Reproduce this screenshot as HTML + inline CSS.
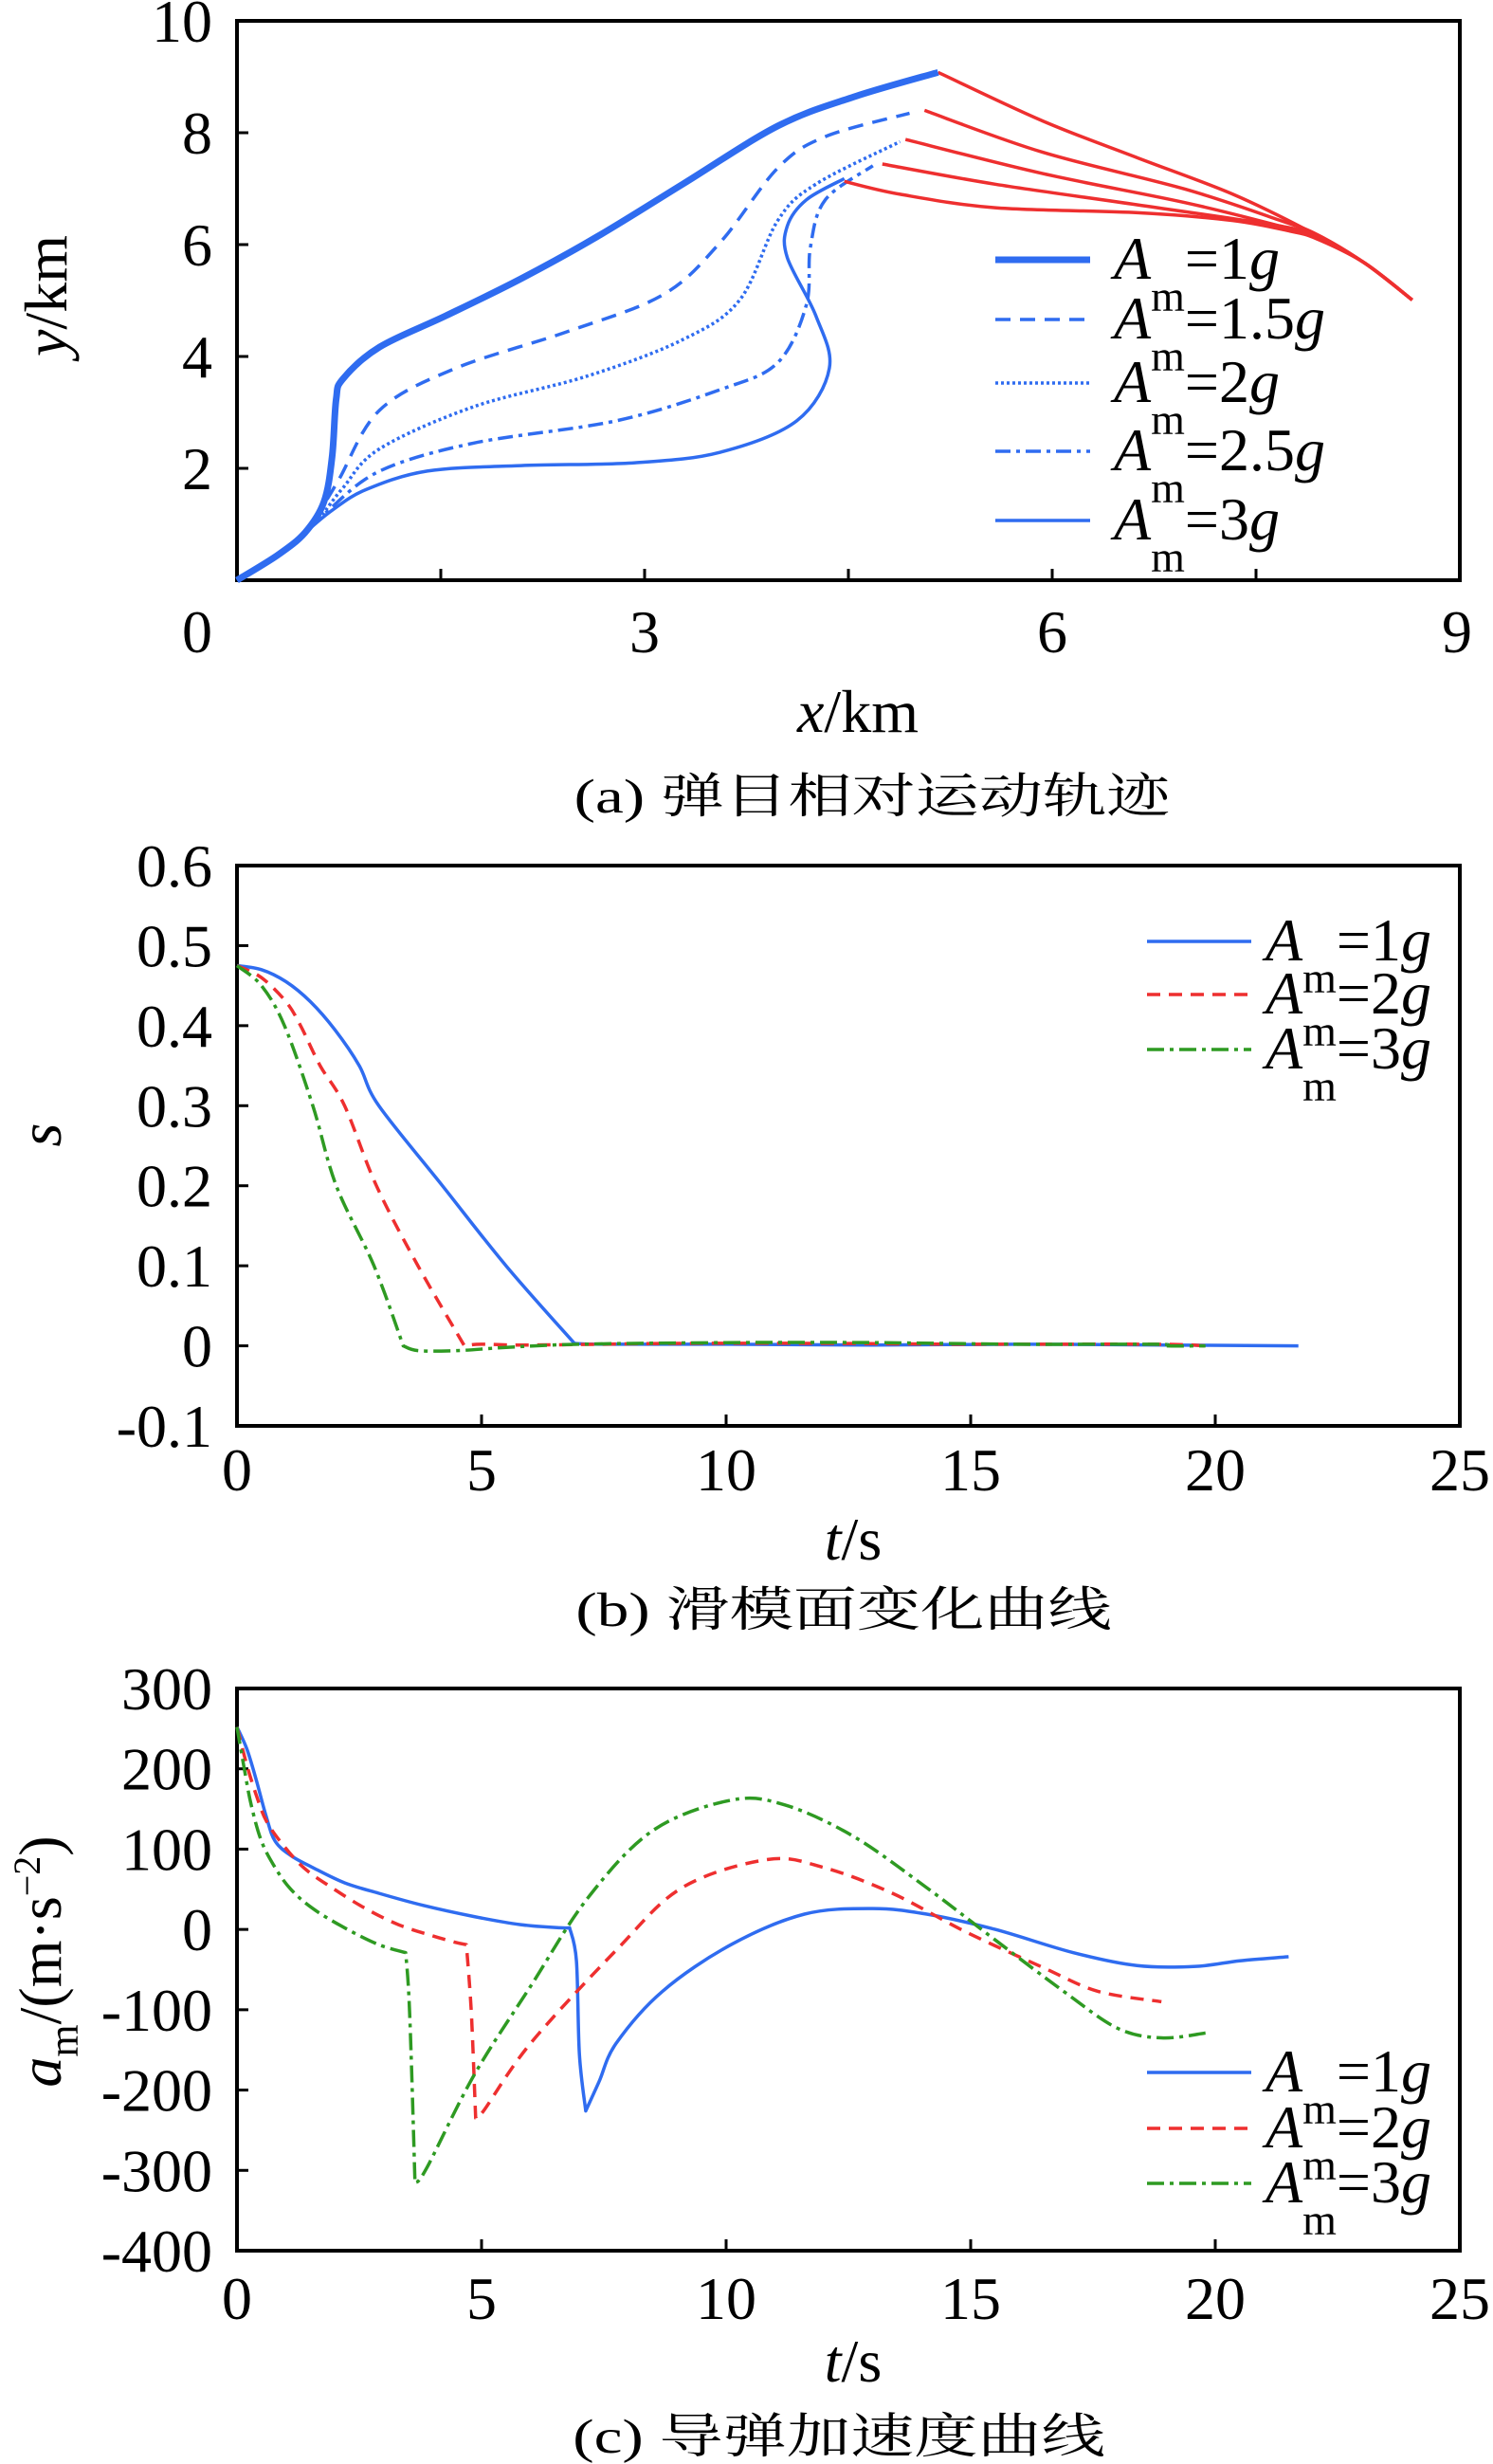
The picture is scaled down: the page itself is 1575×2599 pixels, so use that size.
<!DOCTYPE html>
<html><head><meta charset="utf-8">
<style>
html,body{margin:0;padding:0;background:#fff;}
svg{display:block;}
text{font-family:"Liberation Serif","Noto Serif CJK SC",serif;fill:#000;}
</style></head>
<body>
<svg id="fig" width="1575" height="2599" viewBox="0 0 1575 2599" xmlns="http://www.w3.org/2000/svg">
  <rect x="0" y="0" width="1575" height="2599" fill="#fff"/>
</svg>
<script>
// ---------- Chart (a) data ----------
const aX1 = [0,0.3,0.5,0.64,0.70,0.73,0.78,1.05,1.54,2.09,2.65,3.28,3.98,4.54,5.16];
const aY1 = [0,0.45,0.85,1.4,2.2,3.23,3.60,4.17,4.73,5.39,6.14,7.08,8.12,8.64,9.08];
const aX15 = [0,0.3,0.5,0.60,0.75,1.05,1.61,2.44,3.14,3.56,3.98,4.33,4.95];
const aY15 = [0,0.45,0.85,1.2,1.8,3.04,3.79,4.45,5.11,6.05,7.37,7.93,8.35];
const aX2 = [0,0.3,0.5,0.62,0.78,1.05,1.74,2.58,3.28,3.70,3.98,4.26,4.88];
const aY2 = [0,0.45,0.85,1.15,1.65,2.35,3.1,3.65,4.3,5.01,6.43,7.08,7.84];
const aX25 = [0,0.3,0.5,0.65,1.05,1.74,2.79,3.56,3.98,4.19,4.22,4.33,4.68];
const aY25 = [0,0.45,0.85,1.2,1.95,2.45,2.85,3.41,3.89,4.92,5.95,6.80,7.41];
const aX3 = [0,0.3,0.5,0.70,0.95,1.40,2.09,2.93,3.56,4.12,4.36,4.26,4.05,4.05,4.19,4.47];
const aY3 = [0,0.45,0.85,1.25,1.62,1.95,2.05,2.10,2.29,2.85,3.79,4.73,5.77,6.33,6.80,7.18];
// target (red) trajectories
const tX1 = [5.16,5.93,6.63,7.33,7.89,8.30,8.65];
const tY1 = [9.08,8.21,7.55,6.90,6.24,5.67,5.01];
const tX15 = [5.06,5.93,6.98,7.68,7.95,8.30,8.65];
const tY15 = [8.40,7.65,6.99,6.43,6.18,5.67,5.01];
const tX2 = [4.92,5.93,6.98,7.68,7.95,8.30,8.65];
const tY2 = [7.88,7.27,6.75,6.33,6.15,5.67,5.01];
const tX25 = [4.75,5.58,6.63,7.68,7.95,8.30,8.65];
const tY25 = [7.44,7.08,6.71,6.33,6.13,5.67,5.01];
const tX3 = [4.47,4.88,5.58,6.63,7.33,7.75,7.95,8.30,8.65];
const tY3 = [7.13,6.90,6.66,6.57,6.43,6.24,6.10,5.67,5.01];
const aXTicks = [0,3,6,9];
const aYTicks = [2,4,6,8,10];

// ---------- Chart (b) data ----------
const bT1 = [0,0.5,1,1.5,2,2.5,2.9,4.2,5.5,6.9,7.5,10,13,16,19,21.7];
const bS1 = [0.475,0.47,0.455,0.43,0.395,0.35,0.3,0.2,0.1,0.003,0.002,0.002,0.001,0.002,0.001,0.0];
const bT2 = [0,0.5,1,1.3,1.7,2.2,2.85,3.7,4.65,5,6,9,12,15,18.8,19.8];
const bS2 = [0.475,0.46,0.43,0.4,0.35,0.3,0.2,0.1,0.0,0.002,0.001,0.003,0.003,0.002,0.002,0.0];
const bT3 = [0,0.5,0.97,1.55,2.03,2.8,3.4,3.7,4.5,5.5,7,10,13,16,18.8,19,19.8];
const bS3 = [0.475,0.45,0.4,0.3,0.2,0.1,0.0,-0.006,-0.006,-0.002,0.002,0.004,0.004,0.002,0.002,0.0,0.0];
const bXTicks = [0,5,10,15,20,25];
const bYTicks = [-0.1,0,0.1,0.2,0.3,0.4,0.5,0.6];

// ---------- Chart (c) data ----------
const cT1 = [0,0.2,0.39,0.6,0.78,1.1,1.55,2.2,2.9,3.8,4.85,5.8,6.6,6.8,6.94,7.0,7.13,7.4,7.75,8.7,10.1,11.6,13,14.1,15.5,17.1,18.4,19.6,20.5,21.5];
const cA1 = [252,225,187,140,110,92,77,58,45,30,16,6,2,2,-39,-155,-226,-190,-142,-77,-19,19,26,19,0,-29,-45,-46,-39,-34];
const cT2 = [0,0.2,0.39,0.6,0.97,1.4,1.94,2.6,3.3,4.0,4.46,4.69,4.79,4.88,5.04,6.0,7.75,9.1,10.85,12.0,13.4,14.9,16.5,17.6,18.9];
const cA2 = [252,205,168,135,103,75,52,27,6,-8,-16,-19,-103,-235,-226,-142,-26,52,87,77,45,-3,-48,-77,-90];
const cT3 = [0,0.15,0.29,0.5,0.78,1.1,1.55,2.2,2.9,3.45,3.53,3.64,3.88,4.85,6.0,7.17,8.5,10.1,11.2,12.6,14.1,15.5,16.9,18.0,18.9,19.8];
const cA3 = [252,200,155,110,77,50,26,2,-19,-29,-103,-316,-297,-181,-71,39,123,161,155,116,52,-13,-77,-123,-135,-129];
const cXTicks = [0,5,10,15,20,25];
const cYTicks = [-400,-300,-200,-100,0,100,200,300];

const NS = "http://www.w3.org/2000/svg";
const svg = document.getElementById('fig');
const BLUE = "#2f6cf0", RED = "#ee2f2f", GREEN = "#2e9a22";
const FONT = '"Liberation Serif","Noto Serif CJK SC",serif';
const FS = 64;

function mk(tag, attrs, parent){
  const e = document.createElementNS(NS, tag);
  for (const k in attrs) e.setAttribute(k, attrs[k]);
  (parent||svg).appendChild(e);
  return e;
}
function scale(d0,d1,p0,p1){ return v => p0 + (v-d0)*(p1-p0)/(d1-d0); }
function smoothPts(P){
  let d = "";
  for (let i=0;i<P.length-1;i++){
    const p0=P[Math.max(0,i-1)], p1=P[i], p2=P[i+1], p3=P[Math.min(P.length-1,i+2)];
    const c1=[p1[0]+(p2[0]-p0[0])/6, p1[1]+(p2[1]-p0[1])/6];
    const c2=[p2[0]-(p3[0]-p1[0])/6, p2[1]-(p3[1]-p1[1])/6];
    d += "C"+c1[0].toFixed(1)+","+c1[1].toFixed(1)+" "+c2[0].toFixed(1)+","+c2[1].toFixed(1)+" "+p2[0].toFixed(1)+","+p2[1].toFixed(1);
  }
  return d;
}
// smooth path, with optional corner indices where the curve is split
function smoothD(xs, ys, sx, sy, corners){
  const P = xs.map((x,i)=>[sx(x), sy(ys[i])]);
  const cuts = [0].concat(corners||[]).concat([P.length-1]);
  let d = "M"+P[0][0].toFixed(1)+","+P[0][1].toFixed(1);
  for (let k=0;k<cuts.length-1;k++){
    const seg = P.slice(cuts[k], cuts[k+1]+1);
    if (seg.length>1) d += smoothPts(seg);
  }
  return d;
}
function frame(g, L, T, R, B){
  const r = mk('rect', {x:L, y:T, width:R-L, height:B-T, fill:'none', stroke:'#000', 'stroke-width':4}, g);
  
  
}
function txt(g, x, y, s, attrs){
  const t = mk('text', Object.assign({x:x, y:y, 'font-size':FS, 'font-family':FONT}, attrs||{}), g);
  t.textContent = s;
  return t;
}
function legendLabel(g, x, y, val){
  const t = mk('text', {x:x, y:y, 'font-size':FS, 'font-family':FONT}, g);
  const a = mk('tspan', {'font-style':'italic'}, t); a.textContent = 'A';
  const m = mk('tspan', {dx:0, dy:34, 'font-size':46}, t); m.textContent = 'm';
  const e = mk('tspan', {dy:-34}, t); e.textContent = '=' + val;
  const gg = mk('tspan', {'font-style':'italic'}, t); gg.textContent = 'g';
  return t;
}

// ================= Chart (a) =================
(function(){
  const g = mk('g', {});
  
  
  const L=250, R=1540, T=22, B=612;
  const sx = scale(0,9,L,R), sy = scale(0,10,B,T);
  frame(g,L,T,R,B);
  [1.5,3,4.5,6,7.5].forEach(v=>{
    const l = mk('line', {x1:sx(v), x2:sx(v), y1:B, y2:B-12, stroke:'#000', 'stroke-width':3}, g);
    
    
  });
  aYTicks.forEach(v=>{
    if (v<10){
      const l = mk('line', {x1:L, x2:L+12, y1:sy(v), y2:sy(v), stroke:'#000', 'stroke-width':3}, g);
      
      
    }
    const t = txt(g, 224, sy(v)+22, String(v), {'text-anchor':'end'});
    
    
  });
  aXTicks.forEach((v,i)=>{
    const t = txt(g, sx(v) + (i==0?-42:(i==3?-3:0)), 688, String(v), {'text-anchor':'middle'});
    
    
  });
  const yl = txt(g, 0, 0, '', {transform:'translate(70,312) rotate(-90)', 'text-anchor':'middle'});
  yl.innerHTML = '<tspan font-style="italic">y</tspan>/km';
  
  
  const xl = txt(g, 905, 772, '', {'text-anchor':'middle'});
  xl.innerHTML = '<tspan font-style="italic">x</tspan>/km';
  
  

  const series = [
    {x:aX1, y:aY1, tx:tX1, ty:tY1, w:7, dash:'', lab:'1', name:'missile-path-1g'},
    {x:aX15, y:aY15, tx:tX15, ty:tY15, w:3.5, dash:'16 10', lab:'1.5', name:'missile-path-1-5g'},
    {x:aX2, y:aY2, tx:tX2, ty:tY2, w:3.5, dash:'3 3', lab:'2', name:'missile-path-2g'},
    {x:aX25, y:aY25, tx:tX25, ty:tY25, w:3.5, dash:'16 6 4 6', lab:'2.5', name:'missile-path-2-5g'},
    {x:aX3, y:aY3, tx:tX3, ty:tY3, w:3.5, dash:'', lab:'3', name:'missile-path-3g'}
  ];
  const legY = [274,337,404,476,549];
  series.forEach((s,i)=>{
    const t = mk('path', {d:smoothD(s.tx,s.ty,sx,sy), fill:'none', stroke:RED, 'stroke-width':3.5}, g);
    
    
    const p = mk('path', {d:smoothD(s.x,s.y,sx,sy), fill:'none', stroke:BLUE, 'stroke-width':s.w, 'stroke-dasharray':s.dash}, g);
    
    
    const ll = mk('line', {x1:1050, x2:1150, y1:legY[i], y2:legY[i], stroke:BLUE, 'stroke-width':s.w, 'stroke-dasharray':s.dash}, g);
    
    
    const lt = legendLabel(g, 1175, legY[i]+20, s.lab);
    
    
  });
  const cap = txt(g, 0, 0, '(a) 弹目相对运动轨迹', {transform:'translate(920,857) scale(1.2,0.9)', 'text-anchor':'middle', 'font-size':56});
  
  
})();

// ================= Chart (b) =================
(function(){
  const g = mk('g', {});
  
  
  const L=250, R=1540, T=913, B=1504;
  const sx = scale(0,25,L,R), sy = scale(-0.1,0.6,B,T);
  frame(g,L,T,R,B);
  bXTicks.forEach(v=>{
    if (v>0 && v<25){
      const l = mk('line', {x1:sx(v), x2:sx(v), y1:B, y2:B-12, stroke:'#000', 'stroke-width':3}, g);
      
      
    }
    const t = txt(g, sx(v), 1572, String(v), {'text-anchor':'middle'});
    
    
  });
  bYTicks.forEach(v=>{
    if (v>-0.1 && v<0.6){
      const l = mk('line', {x1:L, x2:L+12, y1:sy(v), y2:sy(v), stroke:'#000', 'stroke-width':3}, g);
      
      
    }
    const t = txt(g, 224, sy(v)+22, (Math.round(v*10)/10).toString(), {'text-anchor':'end'});
    
    
  });
  const yl = txt(g, 0, 0, 's', {transform:'translate(64,1197) rotate(-90)', 'text-anchor':'middle', 'font-style':'italic'});
  
  
  const xl = txt(g, 900, 1645, '', {'text-anchor':'middle'});
  xl.innerHTML = '<tspan font-style="italic">t</tspan>/s';
  
  
  const series = [
    {t:bT1, v:bS1, c:BLUE, dash:'', lab:'1', name:'s-curve-1g', k:[9]},
    {t:bT2, v:bS2, c:RED, dash:'14 9', lab:'2', name:'s-curve-2g', k:[8]},
    {t:bT3, v:bS3, c:GREEN, dash:'18 6 4 6', lab:'3', name:'s-curve-3g', k:[6]}
  ];
  const legY = [993,1049,1107];
  series.forEach((s,i)=>{
    const p = mk('path', {d:smoothD(s.t,s.v,sx,sy,s.k), fill:'none', stroke:s.c, 'stroke-width':3.5, 'stroke-dasharray':s.dash}, g);
    
    
    const ll = mk('line', {x1:1210, x2:1320, y1:legY[i], y2:legY[i], stroke:s.c, 'stroke-width':3.5, 'stroke-dasharray':s.dash}, g);
    
    
    const lt = legendLabel(g, 1335, legY[i]+20, s.lab);
    
    
  });
  const cap = txt(g, 0, 0, '(b) 滑模面变化曲线', {transform:'translate(890,1715) scale(1.2,0.9)', 'text-anchor':'middle', 'font-size':56});
  
  
})();

// ================= Chart (c) =================
(function(){
  const g = mk('g', {});
  
  
  const L=250, R=1540, T=1781, B=2374;
  const sx = scale(0,25,L,R), sy = scale(-400,300,B,T);
  frame(g,L,T,R,B);
  cXTicks.forEach(v=>{
    if (v>0 && v<25){
      const l = mk('line', {x1:sx(v), x2:sx(v), y1:B, y2:B-12, stroke:'#000', 'stroke-width':3}, g);
      
      
    }
    const t = txt(g, sx(v), 2446, String(v), {'text-anchor':'middle'});
    
    
  });
  cYTicks.forEach(v=>{
    if (v>-400 && v<300){
      const l = mk('line', {x1:L, x2:L+12, y1:sy(v), y2:sy(v), stroke:'#000', 'stroke-width':3}, g);
      
      
    }
    const t = txt(g, 224, sy(v)+22, String(v), {'text-anchor':'end'});
    
    
  });
  const yl = txt(g, 0, 0, '', {transform:'translate(64,2069) rotate(-90)', 'text-anchor':'middle'});
  yl.innerHTML = '<tspan font-style="italic">a</tspan><tspan font-size="44" dy="18">m</tspan><tspan dy="-18">/(m·s</tspan><tspan font-size="40" dy="-22">−2</tspan><tspan dy="22">)</tspan>';
  
  
  const xl = txt(g, 900, 2512, '', {'text-anchor':'middle'});
  xl.innerHTML = '<tspan font-style="italic">t</tspan>/s';
  
  
  const series = [
    {t:cT1, v:cA1, c:BLUE, dash:'', lab:'1', name:'accel-curve-1g', k:[13,16]},
    {t:cT2, v:cA2, c:RED, dash:'14 9', lab:'2', name:'accel-curve-2g', k:[11,13]},
    {t:cT3, v:cA3, c:GREEN, dash:'18 6 4 6', lab:'3', name:'accel-curve-3g', k:[9,11]}
  ];
  const legY = [2186,2245,2303];
  series.forEach((s,i)=>{
    const p = mk('path', {d:smoothD(s.t,s.v,sx,sy,s.k), fill:'none', stroke:s.c, 'stroke-width':3.5, 'stroke-dasharray':s.dash, 'stroke-linejoin':'round'}, g);
    
    
    const ll = mk('line', {x1:1210, x2:1320, y1:legY[i], y2:legY[i], stroke:s.c, 'stroke-width':3.5, 'stroke-dasharray':s.dash}, g);
    
    
    const lt = legendLabel(g, 1335, legY[i]+20, s.lab);
    
    
  });
  const cap = txt(g, 0, 0, '(c) 导弹加速度曲线', {transform:'translate(885,2587) scale(1.2,0.9)', 'text-anchor':'middle', 'font-size':56});
  
  
})();
</script>
</body></html>
